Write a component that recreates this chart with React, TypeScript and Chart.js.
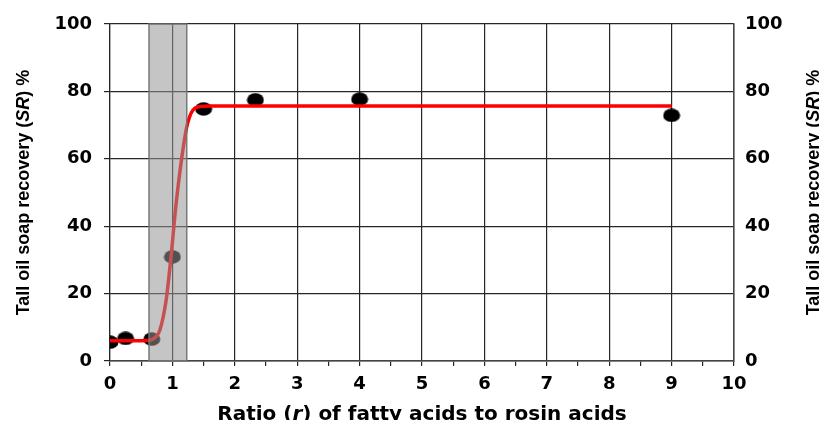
import { useEffect, useRef } from "react";
import { Chart, registerables } from "chart.js";

Chart.register(...registerables);

// Measured recovery values
const ratioPoints = [0, 0.25, 0.67, 1.0, 1.5, 2.33, 4, 9];
const recoveryPoints = [5.6, 6.7, 6.5, 30.9, 74.8, 77.5, 77.7, 72.9];

// Fitted sigmoid trend
const fitRatio = [0, 0.6, 0.72, 0.8, 0.9, 0.98, 1.05, 1.15, 1.23, 1.33, 1.45, 1.6, 9];
const fitRecovery = [6.0, 6.1, 6.9, 9.2, 18.1, 31.3, 45, 60.3, 69.5, 74.5, 75.5, 75.7, 75.7];

// Transition zone shaded on the plot
const bandRange = [0.625, 1.23];

// Axis ranges
const xTickLabels = [0, 1, 2, 3, 4, 5, 6, 7, 8, 9, 10];
const yTickLabels = [0, 20, 40, 60, 80, 100];

const xTitle = [
  { text: "Ratio (", italic: false },
  { text: "r", italic: true },
  { text: ") of fatty acids to rosin acids", italic: false },
];
const yTitle = [
  { text: "Tall oil soap recovery (", italic: false },
  { text: "SR", italic: true },
  { text: ") %", italic: false },
];

type Seg = { text: string; italic: boolean };

// Draws a title made of plain and italic runs, centred on (cx, cy).
function drawRich(
  ctx: CanvasRenderingContext2D,
  segs: Seg[],
  cx: number,
  cy: number,
  rot: number,
  weight: string,
  size: number,
  family: string
) {
  ctx.save();
  ctx.translate(cx, cy);
  ctx.rotate(rot);
  ctx.fillStyle = "#000";
  ctx.textBaseline = "middle";
  ctx.textAlign = "left";
  const fontFor = (s: Seg) => `${s.italic ? "italic " : ""}${weight} ${size}px ${family}`;
  let total = 0;
  for (const s of segs) {
    ctx.font = fontFor(s);
    total += ctx.measureText(s.text).width;
  }
  let x = -total / 2;
  for (const s of segs) {
    ctx.font = fontFor(s);
    ctx.fillText(s.text, x, 0);
    x += ctx.measureText(s.text).width;
  }
  ctx.restore();
}

const overlayPlugin = {
  id: "overlay",
  afterDatasetsDraw(chart: any) {
    const ctx = chart.ctx as CanvasRenderingContext2D;
    const xs = chart.scales.x;
    const { top, bottom } = chart.chartArea;
    const x0 = xs.getPixelForValue(bandRange[0]);
    const x1 = xs.getPixelForValue(bandRange[1]);
    ctx.save();
    ctx.fillStyle = "rgba(150,150,150,0.55)";
    ctx.fillRect(x0, top, x1 - x0, bottom - top);
    ctx.strokeStyle = "rgba(115,115,115,0.95)";
    ctx.lineWidth = 1.5;
    ctx.strokeRect(x0, top, x1 - x0, bottom - top);
    ctx.restore();
  },
  afterDraw(chart: any) {
    const ctx = chart.ctx as CanvasRenderingContext2D;
    const { top, bottom, left, right } = chart.chartArea;
    const midY = (top + bottom) / 2;
    const midX = (left + right) / 2;
    const sans = "'Liberation Sans', Arial, sans-serif";
    drawRich(ctx, yTitle, 16, midY, -Math.PI / 2, "bold", 18, sans);
    drawRich(ctx, yTitle, chart.width - 5, midY, -Math.PI / 2, "bold", 18, sans);
    drawRich(ctx, xTitle, midX, bottom + 54, 0, "bold", 20, "'DejaVu Sans', sans-serif");
  },
};

function makeDot(): HTMLCanvasElement {
  const c = document.createElement("canvas");
  c.width = 18;
  c.height = 14;
  const g = c.getContext("2d")!;
  g.fillStyle = "#000";
  g.beginPath();
  g.ellipse(9, 7, 8.5, 6.8, 0, 0, Math.PI * 2);
  g.fill();
  return c;
}

const tickFont = { family: "'DejaVu Sans', sans-serif", weight: "bold" as const, size: 18 };
const gridDark = "#262626";

const noEdgePadding = (s: any) => {
  s.paddingTop = 0;
  s.paddingBottom = 0;
};

export default function App() {
  const ref = useRef<HTMLCanvasElement>(null);

  useEffect(() => {
    if (!ref.current) return;
    const dot = makeDot();
    const chart = new Chart(ref.current, {
      type: "scatter",
      data: {
        datasets: [
          {
            label: "Fit",
            data: fitRatio.map((x, i) => ({ x, y: fitRecovery[i] })),
            showLine: true,
            borderColor: "#ff0000",
            borderWidth: 3.5,
            pointRadius: 0,
            cubicInterpolationMode: "monotone",
            order: 0,
          } as any,
          {
            label: "SR",
            data: ratioPoints.map((x, i) => ({ x, y: recoveryPoints[i] })),
            pointStyle: dot as any,
            pointRadius: 8,
            backgroundColor: "#000",
            order: 1,
          },
        ],
      },
      options: {
        animation: false,
        responsive: true,
        maintainAspectRatio: false,
        layout: { padding: { top: 16, left: 0, right: 0, bottom: 0 } },
        plugins: { legend: { display: false }, tooltip: { enabled: false } },
        scales: {
          x: {
            type: "linear",
            min: 0,
            max: 10,
            ticks: {
              stepSize: 0.5,
              autoSkip: false,
              maxRotation: 0,
              padding: 8,
              color: "#000",
              font: tickFont,
              callback: (v: any) => (xTickLabels.includes(Number(v)) ? String(v) : ""),
            },
            grid: {
              color: (c: any) => (Number.isInteger(c.tick?.value) ? gridDark : "rgba(0,0,0,0)"),
              tickColor: gridDark,
              tickLength: 5,
              lineWidth: 1.2,
            },
            border: { color: "#444", width: 1.5 },
            afterFit: (s: any) => {
              s.height = 67;
            },
          },
          y: {
            position: "left",
            min: 0,
            max: 100,
            afterBuildTicks: (s: any) => {
              s.ticks = yTickLabels.map((v) => ({ value: v }));
            },
            ticks: { padding: 12, color: "#000", font: tickFont },
            grid: { color: gridDark, tickColor: gridDark, tickLength: 6, lineWidth: 1.2 },
            border: { color: gridDark, width: 1.2 },
            afterFit: (s: any) => {
              s.width = 102;
              noEdgePadding(s);
            },
          },
          y2: {
            position: "right",
            min: 0,
            max: 100,
            afterBuildTicks: (s: any) => {
              s.ticks = yTickLabels.map((v) => ({ value: v }));
            },
            ticks: { padding: 11, color: "#000", font: tickFont },
            grid: { drawOnChartArea: false, drawTicks: false },
            border: { color: "#444", width: 1.5 },
            afterFit: (s: any) => {
              s.width = 85;
              noEdgePadding(s);
            },
          },
        },
      },
      plugins: [overlayPlugin],
    });
    return () => chart.destroy();
  }, []);

  return (
    <div style={{ position: "relative", width: 811, height: 420, marginBottom: -8 }}>
      <canvas ref={ref} />
    </div>
  );
}
